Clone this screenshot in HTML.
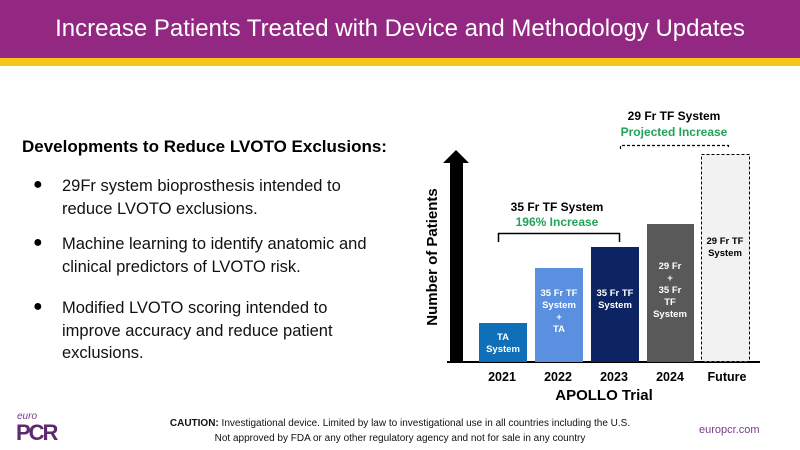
<!DOCTYPE html>
<html><head><meta charset="utf-8"><style>
body{margin:0;width:800px;height:450px;overflow:hidden;background:#fff;font-family:"Liberation Sans",sans-serif;position:relative}
.hdr{position:absolute;left:0;top:0;width:800px;height:58px;background:#922882;color:#fff;font-size:24px;text-align:center;line-height:58px}
.yl{position:absolute;left:0;top:58px;width:800px;height:8px;background:#f5c518}
.t{position:absolute;color:#000;white-space:nowrap}
.b{position:absolute;left:33px;font-size:16px}
.li{position:absolute;left:62px;font-size:16.5px;line-height:22.5px;color:#111}
</style></head><body>
<div class="hdr">Increase Patients Treated with Device and Methodology Updates</div>
<div class="yl"></div>
<div class="t" style="left:22px;top:137px;font-size:17px;font-weight:bold">Developments to Reduce LVOTO Exclusions:</div>
<div class="t b" style="top:176px">●</div>
<div class="li" style="top:175px">29Fr system bioprosthesis intended to<br>reduce LVOTO exclusions.</div>
<div class="t b" style="top:234px">●</div>
<div class="li" style="top:233px">Machine learning to identify anatomic and<br>clinical predictors of LVOTO risk.</div>
<div class="t b" style="top:298px">●</div>
<div class="li" style="top:297px">Modified LVOTO scoring intended to<br>improve accuracy and reduce patient<br>exclusions.</div>
<svg style="position:absolute;left:0;top:0" width="800" height="450" font-family="Liberation Sans, sans-serif" font-weight="bold">
<polygon points="443,163 456,150 469,163 463,163 463,362 450,362 450,163" fill="#000"/>
<line x1="447" y1="362" x2="760" y2="362" stroke="#000" stroke-width="2"/>
<rect x="479" y="323" width="48" height="39" fill="#0f6fb8"/>
<rect x="535" y="268" width="48" height="94" fill="#5b8fe0"/>
<rect x="591" y="247" width="48" height="115" fill="#0c2461"/>
<rect x="647" y="224" width="47" height="138" fill="#595959"/>
<rect x="701.5" y="154.5" width="48" height="207" fill="#f2f2f2" stroke="#000" stroke-dasharray="3,2"/>
<g fill="#fff" font-size="9.5" text-anchor="middle">
<text x="503" y="340">TA</text><text x="503" y="352">System</text>
<text x="559" y="296">35 Fr TF</text><text x="559" y="308">System</text><text x="559" y="320">+</text><text x="559" y="332">TA</text>
<text x="615" y="296">35 Fr TF</text><text x="615" y="308">System</text>
<text x="670" y="269">29 Fr</text><text x="670" y="281">+</text><text x="670" y="293">35 Fr</text><text x="670" y="305">TF</text><text x="670" y="317">System</text>
</g>
<g fill="#000" font-size="9.5" text-anchor="middle"><text x="725" y="244">29 Fr TF</text><text x="725" y="256">System</text></g>
<g font-size="12.5" text-anchor="middle" fill="#000">
<text x="502" y="381">2021</text><text x="558" y="381">2022</text><text x="614" y="381">2023</text><text x="670" y="381">2024</text><text x="727" y="381">Future</text>
</g>
<text x="604" y="400" font-size="15" text-anchor="middle">APOLLO Trial</text>
<text transform="translate(437,257) rotate(-90)" font-size="15" text-anchor="middle">Number of Patients</text>
<path d="M498.5,242 V233.5 H619.5 V242" fill="none" stroke="#000" stroke-width="1.5"/>
<text x="557" y="211" font-size="12" text-anchor="middle">35 Fr TF System</text>
<text x="557" y="226" font-size="12" text-anchor="middle" fill="#22a35a">196% Increase</text>
<path d="M620.5,149 V145.5 H728.5 V149" fill="none" stroke="#000" stroke-width="1.2" stroke-dasharray="3,2"/>
<text x="674" y="120" font-size="12" text-anchor="middle">29 Fr TF System</text>
<text x="674" y="136" font-size="12" text-anchor="middle" fill="#22a35a">Projected Increase</text>
</svg>
<div class="t" style="left:17px;top:411px;font-size:10px;font-style:italic;color:#7a3c8a">euro</div>
<div class="t" style="left:16px;top:420px;font-size:22px;font-weight:bold;color:#5c2a6e;letter-spacing:-2px">PCR</div>
<div class="t" style="left:0;width:800px;text-align:center;top:416px;font-size:10px;line-height:15px;color:#111">
<b>CAUTION:</b> Investigational device. Limited by law to investigational use in all countries including the U.S.<br>Not approved by FDA or any other regulatory agency and not for sale in any country</div>
<div class="t" style="left:699px;top:424px;font-size:11px;color:#7a3c8a">europcr.com</div>
</body></html>
